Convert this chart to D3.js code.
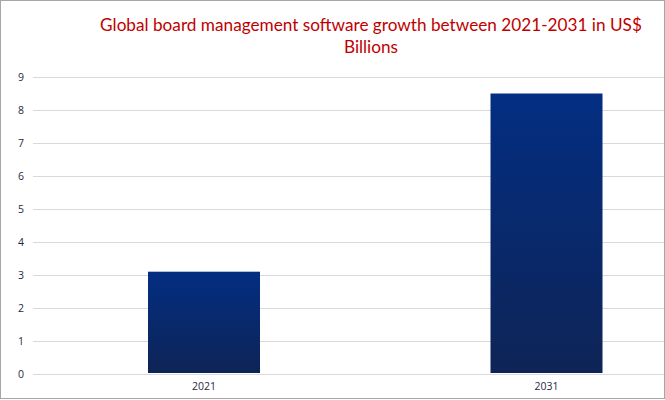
<!DOCTYPE html>
<html><head><meta charset="utf-8">
<script src="https://cdn.jsdelivr.net/npm/d3@7"></script>
<style>html,body{margin:0;padding:0;background:#fff;}svg{display:block;}</style>
</head><body>
<svg id="chart" width="665" height="400"></svg>
<script>
const categories = ["2021", "2031"];
const values = [3.1, 8.5];
const yTicks = [0, 1, 2, 3, 4, 5, 6, 7, 8, 9];
const titleLines = ["Global board management software growth between 2021-2031 in US$", "Billions"];

const svg = d3.select("#chart");

svg.append("rect").attr("x", 0.5).attr("y", 0.5).attr("width", 664).attr("height", 398)
  .attr("fill", "#fff").attr("stroke", "#a6a6a6").attr("stroke-width", 1);

const defs = svg.append("defs");
const grad = defs.append("linearGradient").attr("id", "barGrad")
  .attr("x1", 0).attr("y1", 0).attr("x2", 0).attr("y2", 1);
grad.append("stop").attr("offset", "0%").attr("stop-color", "#032e82");
grad.append("stop").attr("offset", "100%").attr("stop-color", "#0e2456");

const y = d3.scaleLinear().domain([0, 9]).range([374, 77]);
const x = d3.scaleBand().domain(categories).range([32.75, 717.75]).paddingInner(0.673).paddingOuter(0.3365);

svg.append("g").selectAll("line").data(yTicks).join("line")
  .attr("x1", 33).attr("x2", 664)
  .attr("y1", d => Math.round(y(d)) + 0.5).attr("y2", d => Math.round(y(d)) + 0.5)
  .attr("stroke", "#d9d9d9").attr("stroke-width", 1);

svg.append("g").selectAll("text").data(yTicks).join("text")
  .attr("x", 24).attr("y", d => y(d)).attr("dy", "0.35em")
  .attr("text-anchor", "end")
  .attr("font-family", "'Open Sans', Lato, sans-serif").attr("font-size", 10.5)
  .attr("fill", "#1f2a44")
  .text(d => d);

svg.append("g").selectAll("rect").data(values).join("rect")
  .attr("x", (d, i) => x(categories[i]))
  .attr("width", x.bandwidth())
  .attr("y", d => y(d))
  .attr("height", d => y(0) - 1 - y(d))
  .attr("fill", "url(#barGrad)");

svg.append("g").selectAll("text").data(categories).join("text")
  .attr("x", d => x(d) + x.bandwidth() / 2).attr("y", 390)
  .attr("text-anchor", "middle")
  .attr("font-family", "'Open Sans', Lato, sans-serif").attr("font-size", 10.5)
  .attr("fill", "#1f2a44")
  .text(d => d);

const title = svg.append("g").attr("font-family", "Lato, 'Open Sans', sans-serif")
  .attr("font-size", 17.2).attr("fill", "#c00000").attr("text-anchor", "middle");
title.selectAll("text").data(titleLines).join("text")
  .attr("x", 371).attr("y", (d, i) => 31 + i * 22)
  .text(d => d);
</script>
</body></html>
